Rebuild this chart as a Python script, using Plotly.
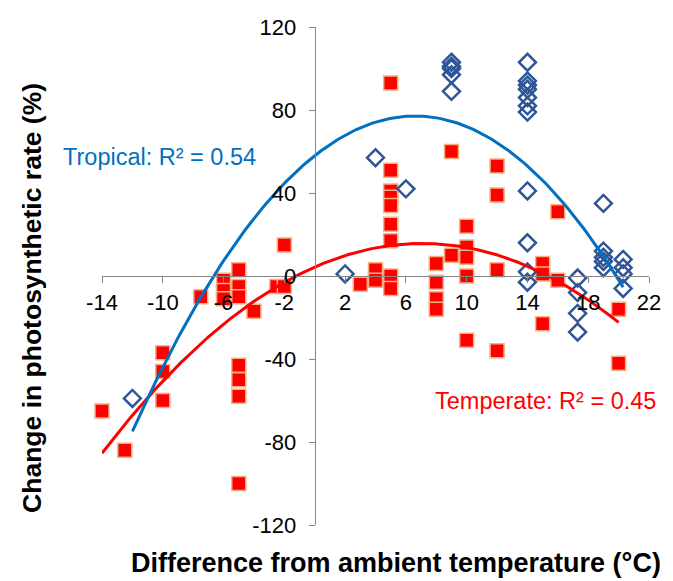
import numpy as np
import plotly.graph_objects as go

# Tropical species: warming offset (°C) and change in photosynthetic rate (%)
tropical_dt = [-12, 2, 4, 6,
               9, 9, 9, 9, 9,
               14, 14, 14, 14, 14, 14, 14, 14, 14, 14, 14,
               17.3, 17.3, 17.3, 17.3,
               19, 19, 19, 19, 19,
               20.3, 20.3, 20.3, 20.3]
tropical_change = [-59, 1, 57, 42,
                   103, 101, 100, 97, 89,
                   103, 94, 92, 90, 86, 82, 79, 41, 16, 2, -3,
                   -1, -8, -18, -27,
                   35, 12, 9, 7, 4,
                   8, 4, 1, -6]

# Temperate species
temperate_dt = [-14, -12.5, -10, -10, -10, -7.5, -6, -6, -6,
                -5, -5, -5, -5, -5, -5, -5, -4, -2.5, -2, -2,
                3, 4, 4, 5, 5, 5, 5, 5, 5, 5, 5, 5,
                8, 8, 8, 8, 9, 9, 10, 10, 10, 10, 10,
                12, 12, 12, 12, 15, 15, 15, 16, 16, 20, 20]
temperate_change = [-65, -84, -37, -46, -60, -10, -2, -7, -11,
                    3, -5, -10, -43, -50, -58, -100, -17, -5, -5, 15,
                    -4, 3, -2, 93, 51, 41, 38, 34, 25, 17, 0, -6,
                    6, -3, -11, -16, 60, 10, 24, 14, 9, 0, -31,
                    53, 39, 3, -36, 6, 1, -23, 31, -2, -16, -42]

x_ticks = [-14, -10, -6, -2, 2, 6, 10, 14, 18, 22]
y_ticks = [-120, -80, -40, 0, 40, 80, 120]
x_range = [-14, 22]
y_range = [-120, 120]

FONT = "Liberation Sans, Arial, sans-serif"
AXIS_GREY = "#868686"
BLUE_LINE = "#0070C0"
DIAMOND = "#2F5597"
RED = "#FF0000"


def quadratic_trend(xs, ys, n=200):
    coef = np.polyfit(xs, ys, 2)
    xx = np.linspace(min(xs), max(xs), n)
    return xx, np.polyval(coef, xx)


def tick_text(vals):
    # plain hyphen-minus for negative labels
    return [str(v) for v in vals]


fig = go.Figure()

fig.add_trace(go.Scatter(
    x=temperate_dt, y=temperate_change, mode="markers", name="Temperate",
    cliponaxis=False,
    marker=dict(symbol="square", size=14, color=RED,
                line=dict(color="#F4B183", width=1.5)),
))
fig.add_trace(go.Scatter(
    x=tropical_dt, y=tropical_change, mode="markers", name="Tropical",
    cliponaxis=False,
    marker=dict(symbol="diamond-open", size=13, color=DIAMOND,
                line=dict(color=DIAMOND, width=2.5)),
))

tx, ty = quadratic_trend(temperate_dt, temperate_change)
fig.add_trace(go.Scatter(x=tx, y=ty, mode="lines", cliponaxis=False,
                         line=dict(color=RED, width=3), hoverinfo="skip"))
px_, py_ = quadratic_trend(tropical_dt, tropical_change)
fig.add_trace(go.Scatter(x=px_, y=py_, mode="lines", cliponaxis=False,
                         line=dict(color=BLUE_LINE, width=3), hoverinfo="skip"))

# axes cross at the origin
x_pos = (0 - y_range[0]) / (y_range[1] - y_range[0])
y_pos = (0 - x_range[0]) / (x_range[1] - x_range[0])

axis_common = dict(showgrid=False, zeroline=False, showline=True,
                   linecolor=AXIS_GREY, linewidth=1, ticks="outside",
                   ticklen=6, tickcolor=AXIS_GREY, tickwidth=1,
                   tickfont=dict(family=FONT, size=22, color="black"),
                   anchor="free", fixedrange=True)

fig.update_layout(
    width=673, height=581,
    margin=dict(l=101.5, r=14, t=27.3, b=56.3),
    paper_bgcolor="white", plot_bgcolor="white",
    showlegend=False,
    font=dict(family=FONT, color="black"),
    xaxis=dict(range=x_range, tickvals=x_ticks, ticktext=tick_text(x_ticks),
               position=x_pos, ticklabelstandoff=1, **axis_common),
    yaxis=dict(range=y_range, tickvals=y_ticks, ticktext=tick_text(y_ticks),
               position=y_pos, ticklabelstandoff=8, **axis_common),
    annotations=[
        dict(text="Difference from ambient temperature (°C)",
             xref="paper", yref="paper", x=0.538, y=-0.077,
             xanchor="center", yanchor="middle", showarrow=False,
             font=dict(family=FONT, size=27, color="black", weight="bold")),
        dict(text="Change in photosynthetic rate (%)",
             xref="paper", yref="paper", x=-0.128, y=0.456, textangle=-90,
             xanchor="center", yanchor="middle", showarrow=False,
             font=dict(family=FONT, size=26.5, color="black", weight="bold")),
        dict(text="Tropical: R² = 0.54", x=-10.19, y=57.3,
             xanchor="center", yanchor="middle", showarrow=False,
             font=dict(family=FONT, size=23.5, color=BLUE_LINE)),
        dict(text="Temperate: R² = 0.45", x=15.22, y=-60.2,
             xanchor="center", yanchor="middle", showarrow=False,
             font=dict(family=FONT, size=23.5, color=RED)),
    ],
)

fig.write_html("out.html")
